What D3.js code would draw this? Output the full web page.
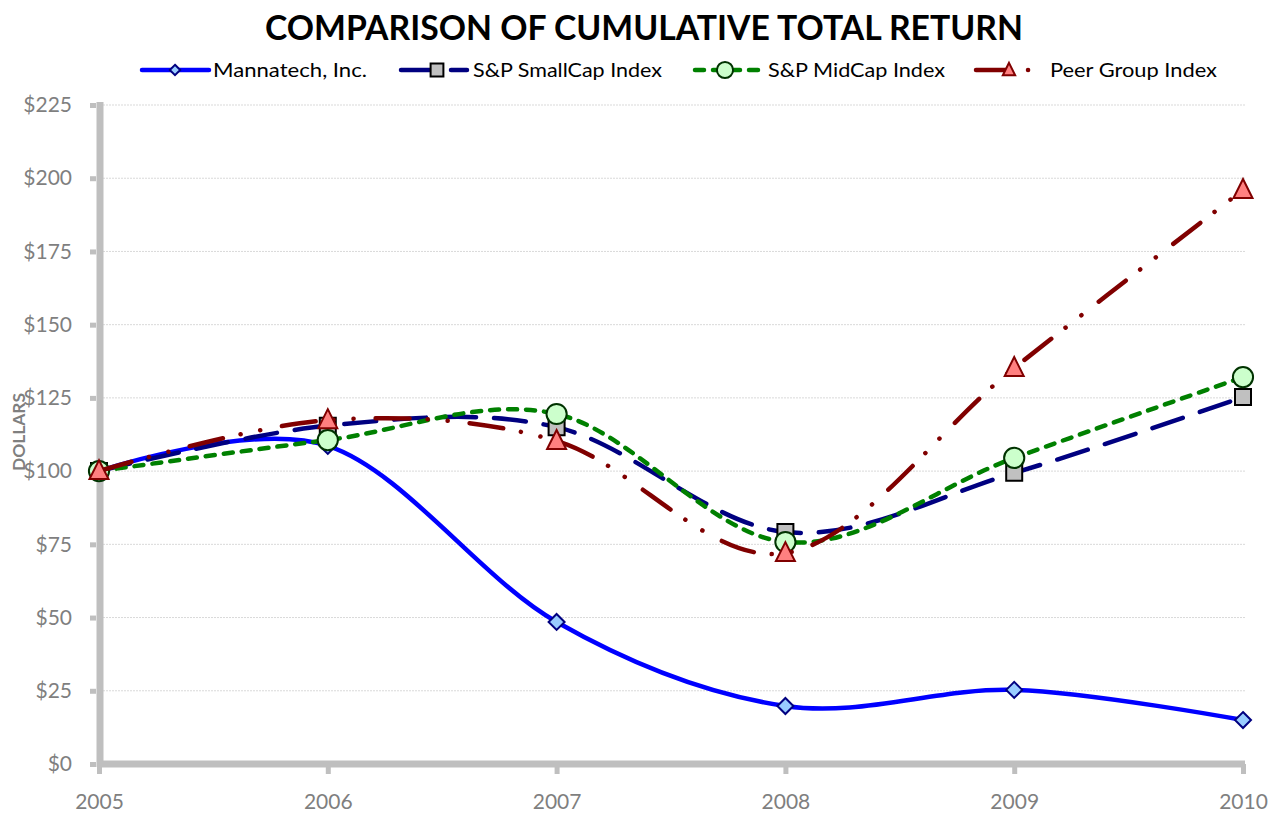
<!DOCTYPE html>
<html lang="en"><head><meta charset="UTF-8">
<title>Comparison of cumulative total return</title>
<script src="https://d3js.org/d3.v7.min.js"></script>
<style type="text/css">
  body { margin: 0; background: #fff; }
  text { font-family: Lato, "Open Sans", sans-serif; }
</style>
</head>
<body>
<script type="text/javascript">

// data
var years = [2005, 2006, 2007, 2008, 2009, 2010];
var mannatech = [100, 108.6, 48.5, 19.8, 25.3, 15];
var smallCap = [100, 115.5, 115, 79.2, 99.4, 125.3];
var midCap = [100, 110.6, 119.5, 75.8, 104.5, 132.1];
var peerGroup = [100, 117.4, 110.3, 72, 135.2, 196];
var yTicks = [0, 25, 50, 75, 100, 125, 150, 175, 200, 225];

var series = [
  {name: "Mannatech, Inc.", values: mannatech, color: "#0000FF", dash: null, marker: "diamond", fill: "#99CCFF", mstroke: "#000080"},
  {name: "S&P SmallCap Index", values: smallCap, color: "#000080", dash: "32 18", marker: "square", fill: "#C0C0C0", mstroke: "#000000"},
  {name: "S&P MidCap Index", values: midCap, color: "#008000", dash: "9 9", marker: "circle", fill: "#CCFFCC", mstroke: "#003300"},
  {name: "Peer Group Index", values: peerGroup, color: "#800000", dash: "34 18 0.1 20 0.1 22", marker: "triangle", fill: "#FF8080", mstroke: "#800000"}
];

var w = 1272, h = 816;
var svg = d3.select("body").append("svg").attr("width", w).attr("height", h);

var x = d3.scaleLinear().domain([2005, 2010]).range([99, 1243]);
var y = d3.scaleLinear().domain([0, 225]).range([764, 105]);

// title
svg.append("text")
  .attr("x", 644).attr("y", 40)
  .attr("text-anchor", "middle")
  .attr("font-size", 34).attr("font-weight", "bold")
  .attr("textLength", 758).attr("lengthAdjust", "spacingAndGlyphs")
  .text("COMPARISON OF CUMULATIVE TOTAL RETURN");

// gridlines
svg.append("g").selectAll("line")
  .data(yTicks.slice(1))
  .enter().append("line")
  .attr("x1", 103).attr("x2", 1245)
  .attr("y1", function(d) { return y(d); })
  .attr("y2", function(d) { return y(d); })
  .attr("stroke", "#D9D9D9").attr("stroke-width", 1)
  .attr("stroke-dasharray", "2 1");

// y axis
var yAxis = d3.axisLeft(y).tickValues(yTicks).tickSize(6).tickPadding(18)
  .tickFormat(function(d) { return "$" + d; });
var gy = svg.append("g").attr("transform", "translate(96,0)").call(yAxis);
gy.select(".domain").remove();
gy.selectAll(".tick line").attr("stroke", "#BFBFBF").attr("stroke-width", 5);
gy.selectAll(".tick text").attr("fill", "#7F7F7F").attr("font-size", 21)
  .style("font-family", "Lato, 'Open Sans', sans-serif");

// x axis
var xAxis = d3.axisBottom(x).tickValues(years).tickSize(10).tickPadding(20)
  .tickFormat(d3.format("d"));
var gx = svg.append("g").attr("transform", "translate(0,764)").call(xAxis);
gx.select(".domain").remove();
gx.selectAll(".tick line").attr("stroke", "#BFBFBF").attr("stroke-width", 5);
gx.selectAll(".tick text").attr("fill", "#7F7F7F").attr("font-size", 21)
  .style("font-family", "Lato, 'Open Sans', sans-serif");

// thick axis lines
svg.append("line").attr("x1", 100).attr("x2", 100).attr("y1", 102).attr("y2", 767)
  .attr("stroke", "#BFBFBF").attr("stroke-width", 7);
svg.append("line").attr("x1", 97).attr("x2", 1245).attr("y1", 764).attr("y2", 764)
  .attr("stroke", "#BFBFBF").attr("stroke-width", 7);

// axis title
svg.append("text")
  .attr("transform", "translate(25,432) rotate(-90)")
  .attr("text-anchor", "middle")
  .attr("font-size", 17).attr("font-weight", "bold").attr("fill", "#7F7F7F")
  .attr("textLength", 78).attr("lengthAdjust", "spacingAndGlyphs")
  .text("DOLLARS");

function markerPath(type) {
  if (type === "diamond") return "M0,-8L8,0L0,8L-8,0Z";
  if (type === "square") return "M-8,-8H8V8H-8Z";
  if (type === "circle") return d3.symbol(d3.symbolCircle, 320)();
  return "M0,-11L9.5,8L-9.5,8Z";
}

var line = d3.line()
  .x(function(d, i) { return x(years[i]); })
  .y(function(d) { return y(d); })
  .curve(d3.curveCatmullRom.alpha(0));

series.forEach(function(s) {
  var g = svg.append("g");
  g.append("path")
    .attr("d", line(s.values))
    .attr("fill", "none")
    .attr("stroke", s.color).attr("stroke-width", 4.5)
    .attr("stroke-linecap", "round")
    .attr("stroke-dasharray", s.dash);
  g.selectAll("path.mk")
    .data(s.values)
    .enter().append("path").attr("class", "mk")
    .attr("d", markerPath(s.marker))
    .attr("transform", function(d, i) { return "translate(" + x(years[i]) + "," + y(d) + ")"; })
    .attr("fill", s.fill).attr("stroke", s.mstroke).attr("stroke-width", 2);
});

// legend
var legendItems = [
  {s: series[0], x1: 142, x2: 209, mx: 175, k: 0.65, tx: 213, tw: 154},
  {s: series[1], x1: 401, x2: 467, mx: 437, k: 0.8, tx: 473, tw: 189},
  {s: series[2], x1: 695, x2: 765, mx: 725, k: 0.8, tx: 768, tw: 177},
  {s: series[3], x1: 976, x2: 1032, mx: 1009, k: 0.65, tx: 1050, tw: 167}
];
var lg = svg.append("g");
legendItems.forEach(function(it) {
  lg.append("line")
    .attr("x1", it.x1).attr("x2", it.x2).attr("y1", 70).attr("y2", 70)
    .attr("stroke", it.s.color).attr("stroke-width", 4.5)
    .attr("stroke-linecap", "round")
    .attr("stroke-dasharray", it.s.dash);
  lg.append("path")
    .attr("d", markerPath(it.s.marker))
    .attr("transform", "translate(" + it.mx + ",70) scale(" + it.k + ")")
    .attr("fill", it.s.fill).attr("stroke", it.s.mstroke).attr("stroke-width", 2 / it.k);
  lg.append("text")
    .attr("x", it.tx).attr("y", 77)
    .attr("font-size", 20)
    .attr("textLength", it.tw).attr("lengthAdjust", "spacingAndGlyphs")
    .text(it.s.name);
});

</script>
</body></html>
